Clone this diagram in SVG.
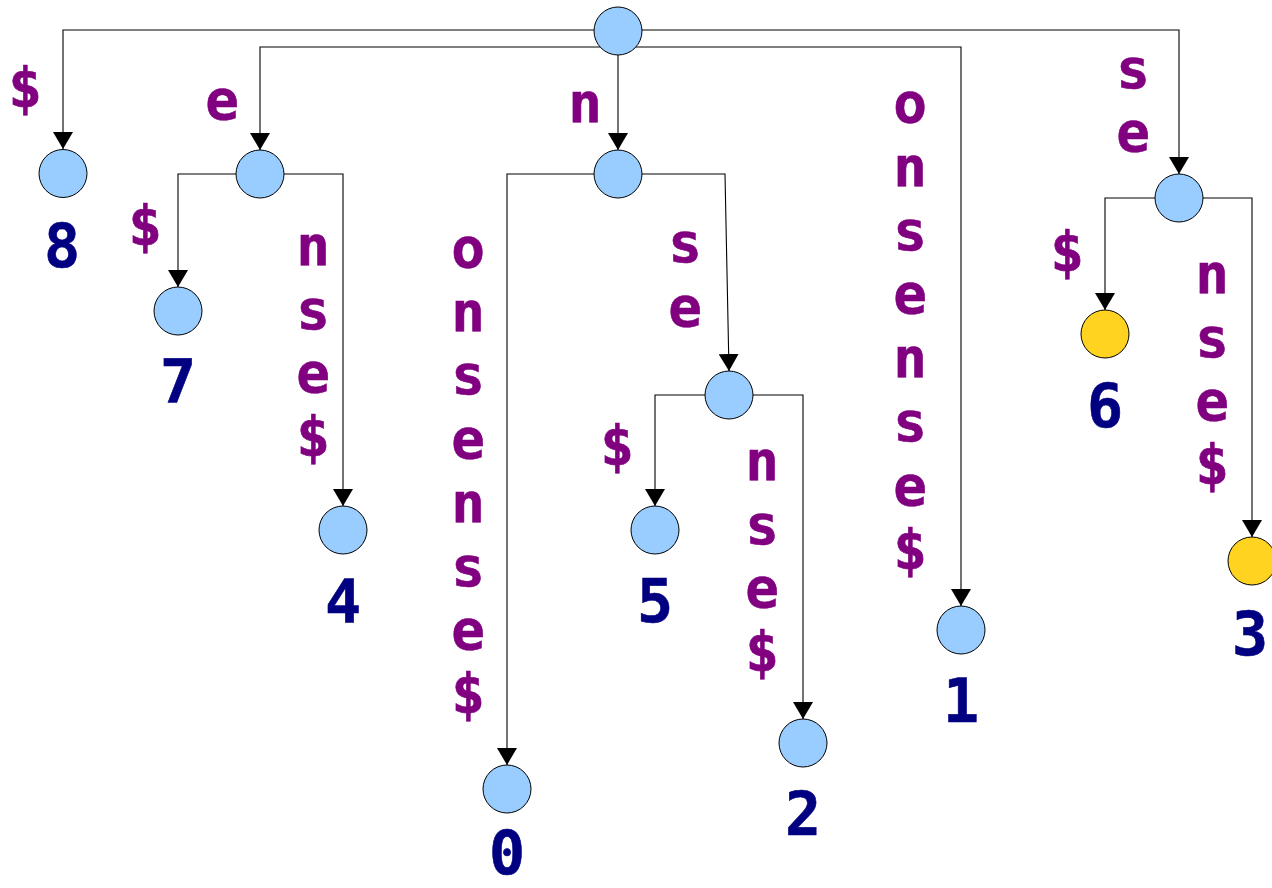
<svg xmlns="http://www.w3.org/2000/svg" width="1272" height="888" viewBox="0 0 1272 888">
<defs>
<marker id="arr" viewBox="0 0 17 20" refX="17" refY="10" markerWidth="17" markerHeight="20" markerUnits="userSpaceOnUse" orient="auto">
<path d="M0,0 L17,10 L0,20 z" fill="#000"/>
</marker>
</defs>
<style>
.edge{fill:none;stroke:#000;stroke-width:1.1;marker-end:url(#arr)}
.n{fill:#99ccff;stroke:#000;stroke-width:1}
.y{fill:#ffd320;stroke:#000;stroke-width:1}
.lbl{font-family:"DejaVu Sans Mono",monospace;font-weight:bold;font-size:56px;fill:#800080;stroke:#800080;stroke-width:0.6;text-anchor:middle}
.num{font-family:"DejaVu Sans Mono",monospace;font-weight:bold;font-size:60px;fill:#000080;stroke:#000080;stroke-width:0.6;text-anchor:middle}
</style>
<rect width="1272" height="888" fill="#fff"/>
<g id="connectors">
<path class="edge" d="M594,30 H63 V149"/>
<path class="edge" d="M600,47 H260 V150"/>
<path class="edge" d="M618,55 V150"/>
<path class="edge" d="M636,47 H961 V606"/>
<path class="edge" d="M642,30 H1179 V174"/>
<path class="edge" d="M236,174 H178 V287"/>
<path class="edge" d="M284,174 H343 V506"/>
<path class="edge" d="M594,174 H507 V765"/>
<path class="edge" d="M642,174 H725 L729,371"/>
<path class="edge" d="M705,395 H655 V506"/>
<path class="edge" d="M753,395 H803 V719"/>
<path class="edge" d="M1155,198 H1105 V310"/>
<path class="edge" d="M1203,198 H1252 V537"/>
</g>
<g id="edge-labels">
<text class="lbl" x="25" y="107">$</text>
<text class="lbl" x="222" y="119">e</text>
<text class="lbl" x="585" y="122">n</text>
<text class="lbl" x="145" y="245">$</text>
<text class="lbl" x="313" y="265"><tspan x="313">n</tspan><tspan x="313" dy="63.5">s</tspan><tspan x="313" dy="63.5">e</tspan><tspan x="313" dy="63.5">$</tspan></text>
<text class="lbl" x="468" y="267"><tspan x="468">o</tspan><tspan x="468" dy="63.7">n</tspan><tspan x="468" dy="63.7">s</tspan><tspan x="468" dy="63.7">e</tspan><tspan x="468" dy="63.7">n</tspan><tspan x="468" dy="63.7">s</tspan><tspan x="468" dy="63.7">e</tspan><tspan x="468" dy="63.7">$</tspan></text>
<text class="lbl" x="685" y="262"><tspan x="685">s</tspan><tspan x="685" dy="64">e</tspan></text>
<text class="lbl" x="617" y="465">$</text>
<text class="lbl" x="762" y="480"><tspan x="762">n</tspan><tspan x="762" dy="63.5">s</tspan><tspan x="762" dy="63.5">e</tspan><tspan x="762" dy="63.5">$</tspan></text>
<text class="lbl" x="910" y="122"><tspan x="910">o</tspan><tspan x="910" dy="63.8">n</tspan><tspan x="910" dy="63.8">s</tspan><tspan x="910" dy="63.8">e</tspan><tspan x="910" dy="63.8">n</tspan><tspan x="910" dy="63.8">s</tspan><tspan x="910" dy="63.8">e</tspan><tspan x="910" dy="63.8">$</tspan></text>
<text class="lbl" x="1133" y="88"><tspan x="1133">s</tspan><tspan x="1133" dy="63">e</tspan></text>
<text class="lbl" x="1067" y="271">$</text>
<text class="lbl" x="1212" y="293"><tspan x="1212">n</tspan><tspan x="1212" dy="63.5">s</tspan><tspan x="1212" dy="63.5">e</tspan><tspan x="1212" dy="63.5">$</tspan></text>
</g>
<g id="root"><circle class="n" cx="618" cy="31" r="24"/></g>
<g id="node-e"><circle class="n" cx="260" cy="174" r="24"/></g>
<g id="node-n"><circle class="n" cx="618" cy="174" r="24"/></g>
<g id="node-nse"><circle class="n" cx="729" cy="395" r="24"/></g>
<g id="node-se"><circle class="n" cx="1179" cy="198" r="24"/></g>
<g id="leaf-8"><circle class="n" cx="63" cy="173.5" r="24"/><text class="num" x="62" y="267">8</text></g>
<g id="leaf-7"><circle class="n" cx="178" cy="311" r="24"/><text class="num" x="178" y="403">7</text></g>
<g id="leaf-4"><circle class="n" cx="343" cy="530" r="24"/><text class="num" x="343" y="623">4</text></g>
<g id="leaf-0"><circle class="n" cx="507" cy="789" r="24"/><text class="num" x="507" y="874">0</text></g>
<g id="leaf-5"><circle class="n" cx="655" cy="530" r="24"/><text class="num" x="655" y="622">5</text></g>
<g id="leaf-2"><circle class="n" cx="803" cy="743" r="24"/><text class="num" x="803" y="835">2</text></g>
<g id="leaf-1"><circle class="n" cx="961" cy="630" r="24"/><text class="num" x="961" y="722">1</text></g>
<g id="leaf-6"><circle class="y" cx="1105" cy="334" r="24"/><text class="num" x="1105" y="427">6</text></g>
<g id="leaf-3"><circle class="y" cx="1252" cy="561" r="24"/><text class="num" x="1250" y="655">3</text></g>
</svg>
